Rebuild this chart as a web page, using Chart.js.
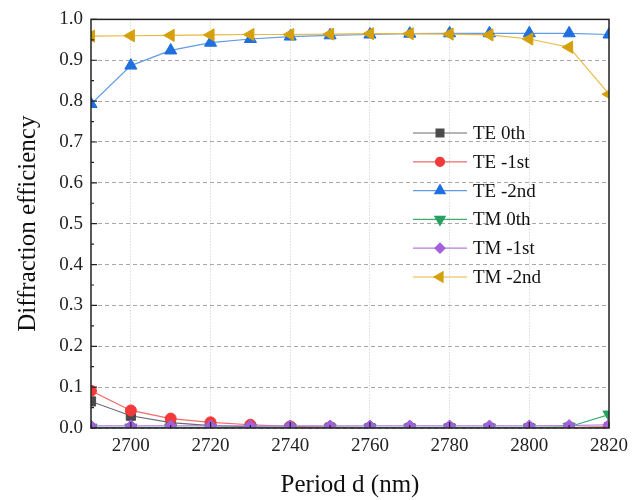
<!DOCTYPE html>
<html>
<head>
<meta charset="utf-8">
<script src="https://cdn.jsdelivr.net/npm/chart.js@4"></script>
<style>
  html, body { margin: 0; padding: 0; background: #fff; }
  #wrap { width: 635px; height: 500px; }
</style>
</head>
<body>
<div id="wrap"><canvas id="canvas" width="635" height="500"></canvas></div>
<script>
const periods = [2690, 2700, 2710, 2720, 2730, 2740, 2750, 2760, 2770, 2780, 2790, 2800, 2810, 2820];
const teZero   = [0.065, 0.030, 0.013, 0.006, 0.003, 0.001, 0.001, 0.000, 0.000, 0.000, 0.000, 0.000, 0.001, 0.002];
const teMinus1 = [0.091, 0.043, 0.023, 0.014, 0.008, 0.004, 0.002, 0.001, 0.001, 0.000, 0.000, 0.000, 0.001, 0.003];
const teMinus2 = [0.793, 0.887, 0.924, 0.943, 0.952, 0.958, 0.961, 0.963, 0.965, 0.966, 0.966, 0.966, 0.966, 0.963];
const tmZero   = [0.001, 0.001, 0.001, 0.001, 0.001, 0.001, 0.001, 0.001, 0.001, 0.001, 0.001, 0.001, 0.003, 0.033];
const tmMinus1 = [0.005, 0.005, 0.005, 0.005, 0.005, 0.005, 0.005, 0.005, 0.005, 0.005, 0.005, 0.005, 0.006, 0.008];
const tmMinus2 = [0.959, 0.960, 0.961, 0.962, 0.963, 0.963, 0.964, 0.965, 0.965, 0.964, 0.962, 0.952, 0.932, 0.817];
const seriesNames = ["TE 0th", "TE -1st", "TE -2nd", "TM 0th", "TM -1st", "TM -2nd"];
const xTicks = [2700, 2720, 2740, 2760, 2780, 2800, 2820];
const yTicks = [0, 0.1, 0.2, 0.3, 0.4, 0.5, 0.6, 0.7, 0.8, 0.9, 1.0];

const serif = "'Liberation Serif', 'DejaVu Serif', serif";

const points = (arr) => arr.map((v, i) => ({ x: periods[i], y: v }));

const makeSet = (label, values, lineColor, markColor, style, rot, radius, order) => ({
  label: label,
  data: points(values),
  borderColor: lineColor,
  backgroundColor: markColor,
  pointBackgroundColor: markColor,
  pointBorderColor: markColor,
  pointBorderWidth: 1,
  pointStyle: style,
  pointRotation: rot,
  pointRadius: radius,
  borderWidth: 1.2,
  tension: 0,
  order: order,
});

const datasets = [
  makeSet(seriesNames[0], teZero, "#6b6b6b", "#4a4a4a", "rect", 0, 6.5, 5),
  makeSet(seriesNames[1], teMinus1, "#f26a6a", "#f23a3a", "circle", 0, 5.5, 4),
  makeSet(seriesNames[2], teMinus2, "#5f9be8", "#1e6fe0", "triangle", 0, 7, 3),
  makeSet(seriesNames[3], tmZero, "#3cae72", "#27a060", "triangle", 180, 7, 2),
  makeSet(seriesNames[4], tmMinus1, "#b07fe0", "#a160dc", "rectRot", 0, 6, 1),
  makeSet(seriesNames[5], tmMinus2, "#e8b840", "#d4a00c", "triangle", -90, 7, 0),
];

// frame, inward ticks and legend drawn over the plot
const decor = {
  id: "decor",
  afterDraw(chart) {
    const ctx = chart.ctx;
    const a = chart.chartArea;
    const xs = chart.scales.x;
    const ys = chart.scales.y;
    ctx.save();
    ctx.strokeStyle = "#222";
    ctx.lineWidth = 1.5;
    ctx.strokeRect(a.left, a.top, a.right - a.left, a.bottom - a.top);

    ctx.lineWidth = 1.2;
    ctx.beginPath();
    for (let v = 2690; v <= 2820; v += 10) {
      const px = xs.getPixelForValue(v);
      const len = (v % 20 === 0) ? 6 : 3;
      ctx.moveTo(px, a.bottom);
      ctx.lineTo(px, a.bottom - len);
    }
    for (let k = 0; k <= 20; k++) {
      const py = ys.getPixelForValue(k * 0.05);
      const len = (k % 2 === 0) ? 6 : 3;
      ctx.moveTo(a.left, py);
      ctx.lineTo(a.left + len, py);
    }
    ctx.stroke();

    // legend
    const lx = 413, ly = 133, step = 28.8;
    ctx.font = "19px " + serif;
    ctx.textBaseline = "middle";
    chart.data.datasets.forEach((ds, i) => {
      const y = ly + i * step;
      ctx.strokeStyle = ds.borderColor;
      ctx.lineWidth = 1.2;
      ctx.beginPath();
      ctx.moveTo(lx, y);
      ctx.lineTo(lx + 54, y);
      ctx.stroke();
      ctx.fillStyle = ds.pointBackgroundColor;
      ctx.strokeStyle = ds.pointBorderColor;
      Chart.helpers.drawPoint(ctx, {
        pointStyle: ds.pointStyle,
        rotation: ds.pointRotation,
        radius: ds.pointRadius - 1,
        borderWidth: 1,
      }, lx + 27, y);
      ctx.fillStyle = "#111";
      ctx.fillText(ds.label, lx + 60, y + 1);
    });
    ctx.restore();
  },
};

const config = {
  type: "line",
  data: { datasets: datasets },
  options: {
    responsive: false,
    animation: false,
    layout: { padding: { top: 17, right: 7, left: 0, bottom: 0 } },
    plugins: { legend: { display: false }, tooltip: { enabled: false } },
    scales: {
      x: {
        type: "linear",
        min: 2690,
        max: 2820,
        afterBuildTicks: (scale) => { scale.ticks = xTicks.map((v) => ({ value: v })); },
        afterFit: (scale) => { scale.height = 72; },
        grid: { color: "#c8c8c8", lineWidth: 1, drawTicks: false },
        border: { display: false, dash: [1, 2] },
        ticks: {
          color: "#222",
          font: { family: serif, size: 19 },
          padding: 7,
          maxRotation: 0,
          autoSkip: false,
          callback: (v) => String(v),
        },
        title: {
          display: true,
          text: "Period d (nm)",
          color: "#111",
          font: { family: serif, size: 25 },
          padding: { top: 15, bottom: 0 },
        },
      },
      y: {
        min: 0,
        max: 1,
        afterBuildTicks: (scale) => { scale.ticks = yTicks.map((v) => ({ value: v })); },
        afterFit: (scale) => { scale.width = 91; },
        grid: { color: "#a8a8a8", lineWidth: 1, drawTicks: false },
        border: { display: false, dash: [4, 3] },
        ticks: {
          color: "#222",
          font: { family: serif, size: 19 },
          padding: 8,
          callback: (v) => Number(v).toFixed(1),
        },
        title: {
          display: true,
          text: "Diffraction efficiency",
          color: "#111",
          font: { family: serif, size: 25 },
          padding: { top: 13, bottom: 6 },
        },
      },
    },
  },
  plugins: [decor],
};

const canvas = document.getElementById("canvas");
const chart = new Chart(canvas, config);
</script>
</body>
</html>
